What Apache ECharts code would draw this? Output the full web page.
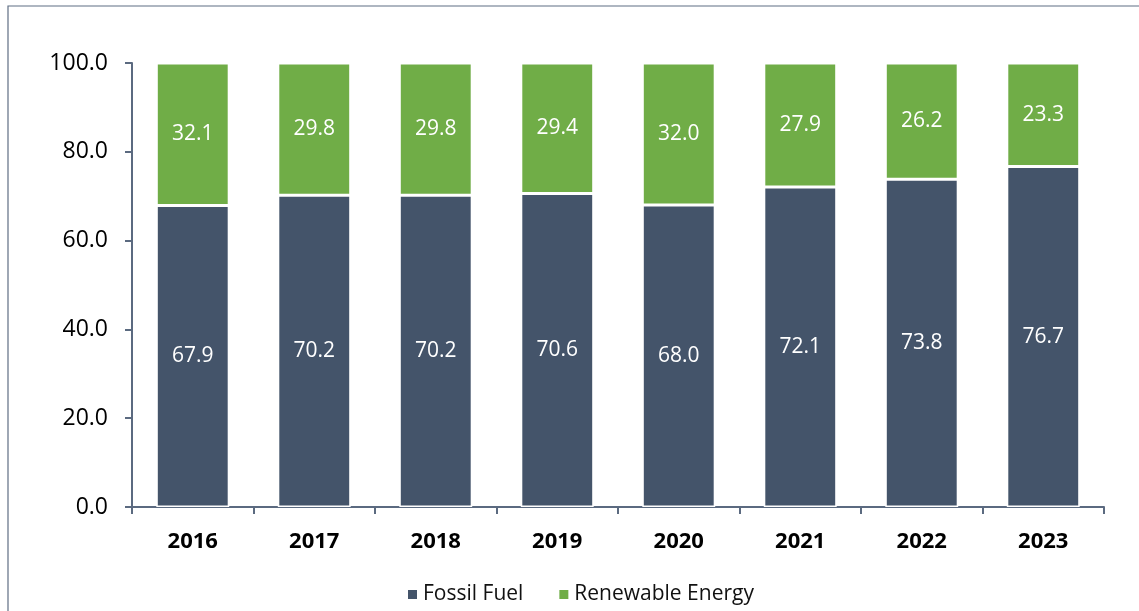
<!DOCTYPE html>
<html>
<head>
    <meta charset="utf-8" />
    <title>Fossil Fuel vs Renewable Energy</title>
    <script type="text/javascript" src="https://cdn.jsdelivr.net/npm/echarts@6/dist/echarts.min.js"></script>
    <style>
        html, body { margin: 0; padding: 0; background: #fff; }
    </style>
</head>
<body>
<div id="main" style="width: 1139px;height:611px;"></div>
<script type="text/javascript">
    // data
    var years = ['2016', '2017', '2018', '2019', '2020', '2021', '2022', '2023'];
    var fossilFuel = [67.9, 70.2, 70.2, 70.6, 68.0, 72.1, 73.8, 76.7];
    var renewable = [32.1, 29.8, 29.8, 29.4, 32.0, 27.9, 26.2, 23.3];
    var yTicks = [0, 20, 40, 60, 80, 100];

    var axisColor = '#5b6a80';
    var fontName = '"Open Sans", "Noto Sans", sans-serif';

    var myChart = echarts.init(document.getElementById('main'));
    var labelStyle = {
        show: true,
        position: 'inside',
        color: '#fff',
        fontSize: 21,
        fontFamily: fontName,
        formatter: function (p) { return p.value.toFixed(1); }
    };
    var option = {
        animation: false,
        graphic: [{
            type: 'rect',
            shape: { x: 8, y: 6, width: 1140, height: 640 },
            style: { fill: 'none', stroke: '#5f6e84', lineWidth: 1.2 },
            silent: true
        }],
        legend: {
            top: 579,
            left: 401,
            itemWidth: 11,
            itemHeight: 11,
            itemGap: 34,
            icon: 'rect',
            textStyle: { fontSize: 21, color: '#111', fontFamily: fontName },
            data: ['Fossil Fuel', 'Renewable Energy']
        },
        grid: { left: 132, right: 35, top: 63, bottom: 104 },
        xAxis: {
            type: 'category',
            data: years,
            axisLine: { lineStyle: { color: axisColor, width: 2 } },
            axisTick: { show: true, length: 7, lineStyle: { color: axisColor, width: 2 } },
            axisLabel: {
                margin: 24,
                fontSize: 22,
                fontWeight: 'bold',
                color: '#000',
                fontFamily: fontName
            }
        },
        yAxis: {
            type: 'value',
            min: yTicks[0],
            max: yTicks[yTicks.length - 1],
            interval: 20,
            splitLine: { show: false },
            axisLine: { show: true, lineStyle: { color: axisColor, width: 2 } },
            axisTick: { show: true, length: 7, lineStyle: { color: axisColor, width: 2 } },
            axisLabel: {
                margin: 24,
                fontSize: 23,
                color: '#000',
                fontFamily: fontName,
                formatter: function (v) { return v.toFixed(1); }
            }
        },
        series: [
            {
                name: 'Fossil Fuel',
                type: 'bar',
                stack: 'total',
                barCategoryGap: '40%',
                itemStyle: { color: '#44546a', borderColor: '#fff', borderWidth: 1.5 },
                label: labelStyle,
                data: fossilFuel
            },
            {
                name: 'Renewable Energy',
                type: 'bar',
                stack: 'total',
                barCategoryGap: '40%',
                itemStyle: { color: '#70ad47', borderColor: '#fff', borderWidth: 1.5 },
                label: labelStyle,
                data: renewable
            }
        ]
    };
    myChart.setOption(option);
</script>
</body>
</html>
